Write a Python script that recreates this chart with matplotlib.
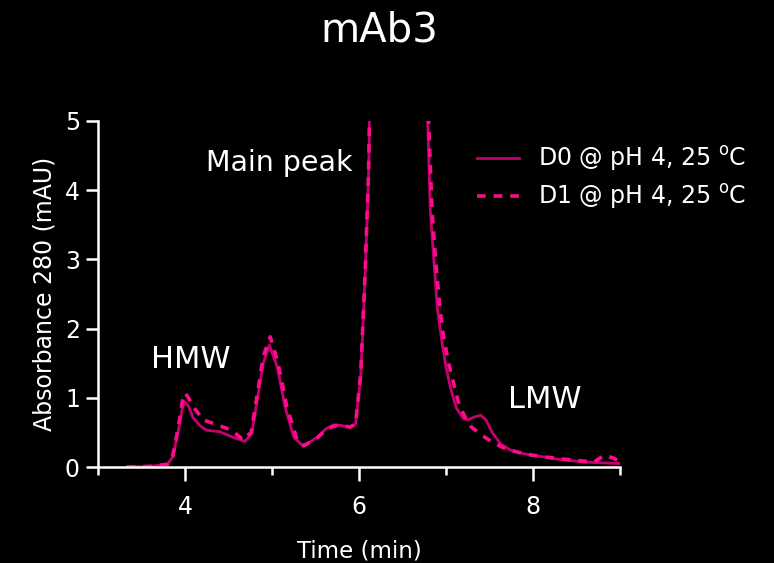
import numpy as np
import matplotlib.pyplot as plt
from matplotlib.ticker import MultipleLocator

plt.rcParams['font.family'] = ['DejaVu Sans']
plt.rcParams['mathtext.fontset'] = 'dejavusans'

# cromatograma D0 (linea continua)
t_d0 = [3.33, 3.6, 3.8, 3.86, 3.92, 3.97, 4.0, 4.04, 4.09, 4.17, 4.25, 4.4, 4.55,
        4.69, 4.77, 4.83, 4.9, 4.97, 5.06, 5.15, 5.25, 5.36, 5.52, 5.62, 5.71, 5.8,
        5.9, 5.96, 6.02, 6.07, 6.11, 6.16, 6.45, 6.76, 6.79, 6.82, 6.86, 6.9, 6.96,
        7.0, 7.05, 7.12, 7.2, 7.25, 7.32, 7.4, 7.46, 7.53, 7.63, 7.75, 7.9, 8.05,
        8.3, 8.6, 8.8, 9.0]
a_d0 = [0.0, 0.01, 0.04, 0.15, 0.5, 0.85, 0.94, 0.88, 0.72, 0.6, 0.53, 0.51, 0.43,
        0.37, 0.49, 0.97, 1.5, 1.76, 1.45, 0.87, 0.43, 0.30, 0.43, 0.55, 0.61, 0.6,
        0.57, 0.62, 1.3, 2.75, 4.2, 8.0, 40.0, 8.0, 5.0, 3.7, 3.0, 2.3, 1.75,
        1.45, 1.15, 0.85, 0.7, 0.68, 0.72, 0.75, 0.68, 0.5, 0.33, 0.24, 0.19, 0.16,
        0.11, 0.07, 0.06, 0.05]

# cromatograma D1 (linea discontinua)
t_d1 = [3.33, 3.6, 3.8, 3.86, 3.92, 3.97, 4.0, 4.04, 4.09, 4.21, 4.37, 4.54, 4.67,
        4.76, 4.83, 4.9, 4.98, 5.07, 5.17, 5.29, 5.37, 5.52, 5.64, 5.75, 5.9, 5.96,
        6.02, 6.07, 6.11, 6.16, 6.45, 6.77, 6.8, 6.84, 6.88, 6.93, 6.97, 7.03, 7.09,
        7.15, 7.22, 7.29, 7.4, 7.52, 7.64, 7.75, 7.9, 8.05, 8.3, 8.55, 8.7, 8.82,
        8.92, 9.0]
a_d1 = [0.0, 0.01, 0.04, 0.16, 0.55, 0.95, 1.07, 1.0, 0.88, 0.68, 0.61, 0.53, 0.39,
        0.5, 1.04, 1.6, 1.88, 1.5, 0.87, 0.39, 0.31, 0.42, 0.56, 0.6, 0.58, 0.62,
        1.35, 2.8, 4.25, 8.0, 40.0, 8.0, 5.0, 3.7, 3.0, 2.3, 1.9, 1.5, 1.2,
        0.9, 0.72, 0.58, 0.47, 0.37, 0.29, 0.24, 0.19, 0.16, 0.12, 0.09, 0.07, 0.17,
        0.13, 0.08]

color_d0 = '#c8006f'
color_d1 = '#ff0a8c'

fig = plt.figure(figsize=(7.74, 5.63), dpi=100, facecolor='black')
ax = fig.add_axes([0.1266, 0.1705, 0.6744, 0.6146], facecolor='black')

ax.plot(t_d0, a_d0, color=color_d0, lw=2.0, label='D0 @ pH 4, 25 $^{\\mathrm{o}}$C')
ax.plot(t_d1, a_d1, color=color_d1, lw=2.6, linestyle=(0, (2.4, 2.2)),
        label='D1 @ pH 4, 25 $^{\\mathrm{o}}$C')

ax.set_xlim(3, 9)
ax.set_ylim(0, 5)
ax.xaxis.set_major_locator(MultipleLocator(2))
ax.xaxis.set_minor_locator(MultipleLocator(1))
ax.yaxis.set_major_locator(MultipleLocator(1))

for s in ['top', 'right']:
    ax.spines[s].set_visible(False)
for s in ['left', 'bottom']:
    ax.spines[s].set_color('white')
    ax.spines[s].set_linewidth(1.8)

ax.tick_params(axis='both', colors='white', labelsize=17, width=1.8)
ax.tick_params(axis='x', which='major', length=10, pad=10)
ax.tick_params(axis='x', which='minor', length=6, width=1.8, colors='white')
ax.tick_params(axis='y', which='major', length=9, pad=4)

ax.set_xlabel('Time (min)', color='white', fontsize=16.5, labelpad=15)
ax.set_ylabel('Absorbance 280 (mAU)', color='white', fontsize=17, labelpad=6)

# etiquetas de los picos
ax.text(4.07, 1.55, 'HMW', color='white', fontsize=22, ha='center', va='center')
ax.text(5.08, 4.4, 'Main peak', color='white', fontsize=20.5, ha='center', va='center')
ax.text(8.13, 0.97, 'LMW', color='white', fontsize=22, ha='center', va='center')

fig.text(0.49, 0.945, 'mAb3', color='white', fontsize=29, ha='center', va='center')

leg = ax.legend(loc='upper left', bbox_to_anchor=(0.685, 0.995), frameon=False,
                fontsize=17, handlelength=1.8, handletextpad=0.8, labelspacing=0.4)
for txt in leg.get_texts():
    txt.set_color('white')

fig.savefig('out.png', dpi=100, facecolor='black')
